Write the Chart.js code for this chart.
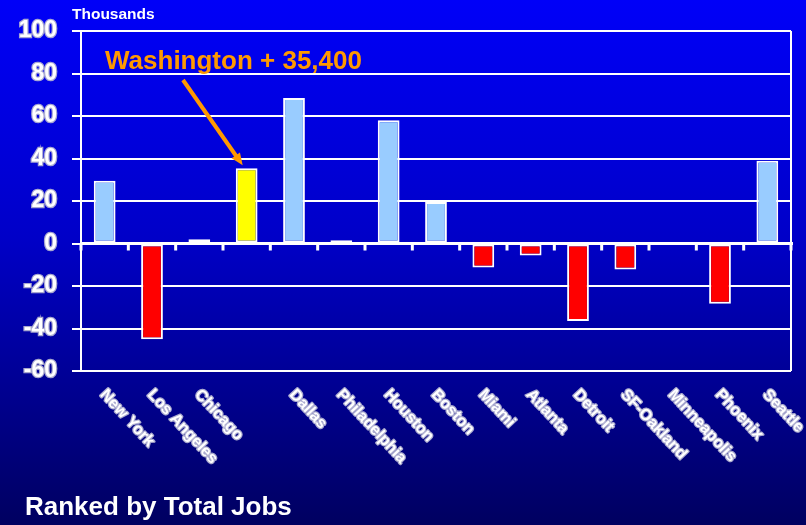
<!DOCTYPE html>
<html>
<head>
<meta charset="utf-8">
<script src="https://cdn.jsdelivr.net/npm/chart.js@4/dist/chart.umd.min.js"></script>
<style>
	html, body { margin: 0; padding: 0; }
	body { width: 806px; height: 525px; background: linear-gradient(to bottom, #0000f8 0%, #0000c8 45%, #000060 100%); overflow: hidden; }
	canvas { display: block; }
</style>
</head>
<body>
<canvas id="myChart" width="806" height="525"></canvas>
<script>
const CITIES = ['New York', 'Los Angeles', 'Chicago', 'Washington', 'Dallas', 'Philadelphia', 'Houston', 'Boston', 'Miami', 'Atlanta', 'Detroit', 'SF-Oakland', 'Minneapolis', 'Phoenix', 'Seattle']
const TICK_LABELS = ['New York', 'Los Angeles', 'Chicago', '', 'Dallas', 'Philadelphia', 'Houston', 'Boston', 'Miami', 'Atlanta', 'Detroit', 'SF-Oakland', 'Minneapolis', 'Phoenix', 'Seattle']
// job change, thousands
const JOBS = [29.5, -45, 2, 35.4, 68.5, 1.5, 58, 19.5, -11.3, -5.6, -36.5, -12.2, 0, -28.4, 39]
const Y_TICKS = [-60, -40, -20, 0, 20, 40, 60, 80, 100]

const HIGHLIGHT = 'Washington'
const ORANGE = '#ff9900'
const FONT = '"Liberation Sans", Arial, sans-serif'

const barColors = CITIES.map((c, i) => c === HIGHLIGHT ? '#ffff00' : JOBS[i] < 0 ? '#ff0000' : '#99ccff')

const extras = {
	id: 'extras',
	afterDatasetsDraw(chart) {
		const { ctx, chartArea: area, scales: { x, y } } = chart
		const zero = y.getPixelForValue(0)
		const step = x.getPixelForValue(1) - x.getPixelForValue(0)
		ctx.save()
		// zero line + little ticks under it
		ctx.fillStyle = '#ffffff'
		ctx.fillRect(area.left, zero - 1.5, area.right - area.left + 2, 3)
		for (let i = 0; i <= CITIES.length; i++) {
			const bx = x.getPixelForValue(i) - step / 2
			ctx.fillRect(bx - 1.5, zero, 3, 7)
		}
		// right frame line
		ctx.strokeStyle = '#ffffff'
		ctx.lineWidth = 2
		ctx.beginPath()
		ctx.moveTo(area.right, area.top)
		ctx.lineTo(area.right, area.bottom)
		ctx.stroke()

		// rotated category labels
		ctx.font = `bold 16px ${FONT}`
		ctx.textAlign = 'left'
		ctx.textBaseline = 'middle'
		ctx.lineJoin = 'round'
		TICK_LABELS.forEach((label, i) => {
			if (!label) return
			ctx.save()
			ctx.translate(x.getPixelForValue(i) - 2, area.bottom + 21)
			ctx.rotate(47 * Math.PI / 180)
			ctx.strokeStyle = 'rgba(190,190,215,0.9)'
			ctx.lineWidth = 2.5
			ctx.strokeText(label, 0, 0)
			ctx.fillStyle = '#ffffff'
			ctx.fillText(label, 0, 0)
			ctx.restore()
		})

		// annotation
		const hi = CITIES.indexOf(HIGHLIGHT)
		const tx = x.getPixelForValue(hi) - 4
		const ty = y.getPixelForValue(JOBS[hi]) - 3
		const sx = 183, sy = 80
		ctx.strokeStyle = ORANGE
		ctx.fillStyle = ORANGE
		ctx.lineWidth = 4
		const ang = Math.atan2(ty - sy, tx - sx)
		const head = 13
		ctx.beginPath()
		ctx.moveTo(sx, sy)
		ctx.lineTo(tx - Math.cos(ang) * head * 0.8, ty - Math.sin(ang) * head * 0.8)
		ctx.stroke()
		ctx.beginPath()
		ctx.moveTo(tx, ty)
		ctx.lineTo(tx - head * Math.cos(ang - 0.4), ty - head * Math.sin(ang - 0.4))
		ctx.lineTo(tx - head * Math.cos(ang + 0.4), ty - head * Math.sin(ang + 0.4))
		ctx.closePath()
		ctx.fill()

		ctx.textBaseline = 'alphabetic'
		ctx.font = `bold 26px ${FONT}`
		ctx.fillText('Washington + 35,400', 105, 69)

		ctx.fillStyle = '#ffffff'
		ctx.font = `bold 15.5px ${FONT}`
		ctx.fillText('Thousands', 72, 19)
		ctx.font = `bold 26px ${FONT}`
		ctx.fillText('Ranked by Total Jobs', 25, 515)
		ctx.restore()
	}
}

const CHART = new Chart(document.getElementById('myChart'), {
	type: 'bar',
	data: {
		labels: CITIES,
		datasets: [{
			data: JOBS,
			backgroundColor: barColors,
			borderColor: '#ffffff',
			borderWidth: 2,
			borderSkipped: false,
			barPercentage: 0.46,
			categoryPercentage: 1
		}]
	},
	options: {
		responsive: false,
		animation: false,
		events: [],
		layout: { padding: { top: 31, right: 15, bottom: 154, left: 0 } },
		plugins: {
			legend: { display: false },
			tooltip: { enabled: false },
			title: { display: false }
		},
		scales: {
			x: {
				offset: true,
				grid: { display: false },
				border: { display: false },
				ticks: { display: false },
				afterFit(scale) { scale.height = 0 }
			},
			y: {
				min: -60,
				max: 100,
				afterBuildTicks(scale) { scale.ticks = Y_TICKS.map(value => ({ value })) },
				ticks: {
					color: '#ffffff',
					font: { family: FONT, size: 23, weight: 'bold' },
					padding: 15,
					textStrokeColor: 'rgba(185,185,210,0.9)',
					textStrokeWidth: 2.5
				},
				grid: {
					color: '#ffffff',
					lineWidth: 2,
					tickLength: 9,
					tickColor: '#ffffff'
				},
				border: { color: '#ffffff', width: 2 },
				afterFit(scale) { scale.width = 81 }
			}
		}
	},
	plugins: [extras]
})
</script>
</body>
</html>
